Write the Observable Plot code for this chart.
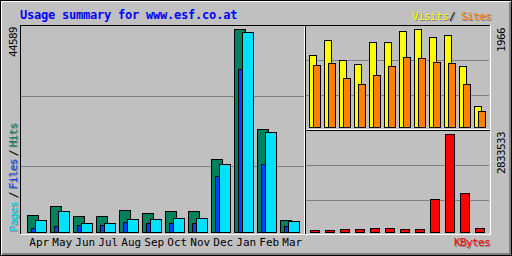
<!DOCTYPE html>
<html><head><meta charset="utf-8">
<script src="https://cdn.jsdelivr.net/npm/d3@7"></script>
<script src="https://cdn.jsdelivr.net/npm/@observablehq/plot@0.6"></script>
<style>
body{margin:0;background:#fff}
#chart{position:relative;width:512px;height:256px;background:#c0c0c0;overflow:hidden}
#chart svg{position:absolute;left:0;top:0}
</style></head><body><div id="chart"></div>
<script>
// ---- data ----
const months = ["Apr","May","Jun","Jul","Aug","Sep","Oct","Nov","Dec","Jan","Feb","Mar"];
const hits   = [3734,5711,3514,3514,4832,4173,4613,4613,16034,44589,22624,2636];
const files  = [879,1318,1538,1538,2196,1977,1977,1977,12300,35803,14936,1318];
const pages  = [2636,4613,1977,1977,2855,2855,3075,3075,14936,43864,21898,2416];
const visits = [1438,1739,1338,1258,1699,1699,1920,1966,1800,1840,1218,415];
const sites  = [1238,1278,977,857,1037,1218,1398,1378,1298,1278,857,315];
const kbytes = [57827,57827,86741,86741,115654,115654,86741,86741,954152,2833533,1127628,115654];
const title = "Usage summary for www.esf.co.at";

const monthly = months.map((m,i)=>({month:m,hits:hits[i],files:files[i],pages:pages[i],visits:visits[i],sites:sites[i],kbytes:kbytes[i]}));

// ---- colours ----
const C = {grey:"#c0c0c0", dk:"#808080", black:"#000", white:"#fff", hit:"#00805c", file:"#0040ff", page:"#00e0ff", visit:"#ffff00", site:"#ff8000", kb:"#ff0000", blue:"#0000ff"};
const W = 512, H = 256;
const mono = "'DejaVu Sans Mono', monospace";
const chart = document.getElementById("chart");

function layer(opts){
  const el = Plot.plot(Object.assign({width:W, height:H, style:{background:"transparent", fontFamily:mono, fontSize:"11px", overflow:"visible"}}, opts));
  chart.appendChild(el);
  return el;
}
const crisp = {shapeRendering:"crispEdges"};

// ---- left panel: hits / files / pages ----
const stepL = 23.35, x0L = 25, baseL = 232, topL = 29;
const maxL = d3.max(hits);
const gridL = [maxL*(baseL-166)/(baseL-topL), maxL*(baseL-96)/(baseL-topL)];
layer({
  marginLeft:x0L, marginRight:W-(x0L+12*stepL), marginTop:topL, marginBottom:H-baseL,
  x:{type:"band", domain:months, padding:0},
  y:{domain:[0,maxL], axis:null, round:true},
  marks:[
    Plot.ruleY(gridL, {stroke:C.dk, insetLeft:-(x0L-21), insetRight:(x0L+12*stepL)-304, ...crisp}),
    Plot.barY(monthly, {x:"month", y:"hits", fill:C.hit, stroke:C.black, insetLeft:0, insetRight:stepL-12, ...crisp}),
    Plot.barY(monthly, {x:"month", y:"files", fill:C.file, stroke:C.black, insetLeft:4, insetRight:stepL-16, ...crisp}),
    Plot.barY(monthly, {x:"month", y:"pages", fill:C.page, stroke:C.black, insetLeft:8, insetRight:stepL-20, ...crisp}),
    Plot.axisX({tickSize:0, tickPadding:6, textAnchor:"start", dx:2-stepL/2, fill:C.black, fontSize:11, label:null})
  ]
});

// ---- top right: visits / sites ----
const x0R = 309, stepR = 15;
const baseV = 127, topV = 29, maxV = d3.max(visits);
const gridV = [maxV*(baseV-95)/(baseV-topV), maxV*(baseV-60)/(baseV-topV)];
layer({
  marginLeft:x0R, marginRight:W-(x0R+12*stepR), marginTop:topV, marginBottom:H-baseV,
  x:{type:"band", domain:months, padding:0, axis:null},
  y:{domain:[0,maxV], axis:null, round:true},
  marks:[
    Plot.ruleY(gridV, {stroke:C.dk, insetLeft:-3, insetRight:0, ...crisp}),
    Plot.barY(monthly, {x:"month", y:"visits", fill:C.visit, stroke:C.black, insetLeft:0, insetRight:stepR-7, ...crisp}),
    Plot.barY(monthly, {x:"month", y:"sites", fill:C.site, stroke:C.black, insetLeft:4, insetRight:stepR-11, ...crisp})
  ]
});

// ---- bottom right: kbytes ----
const baseK = 232, topK = 134, maxK = d3.max(kbytes);
const gridK = [maxK*(baseK-200)/(baseK-topK), maxK*(baseK-165)/(baseK-topK)];
layer({
  marginLeft:x0R, marginRight:W-(x0R+12*stepR), marginTop:topK, marginBottom:H-baseK,
  x:{type:"band", domain:months, padding:0, axis:null},
  y:{domain:[0,maxK], axis:null, round:true},
  marks:[
    Plot.ruleY(gridK, {stroke:C.dk, insetLeft:-3, insetRight:0, ...crisp}),
    Plot.barY(monthly, {x:"month", y:"kbytes", fill:C.kb, stroke:C.black, insetLeft:1, insetRight:stepR-10, ...crisp})
  ]
});

// ---- frame & text overlay ----
const svg = d3.select(chart).append("svg").attr("width",W).attr("height",H);
const px = (x,y,w,h,c)=>svg.append("rect").attr("x",x).attr("y",y).attr("width",w).attr("height",h).attr("fill",c).attr("shape-rendering","crispEdges");
// outer border
px(0,0,W,1,C.black); px(0,H-1,W,1,C.black); px(0,0,1,H,C.black); px(W-1,0,1,H,C.black);
px(1,1,W-2,1,C.white); px(1,1,1,H-2,C.white);
px(2,H-3,W-3,2,C.dk); px(W-3,2,2,H-3,C.dk);
// inner box
px(20,25,471,1,C.black); px(20,25,1,210,C.black);
px(490,25,1,210,C.white); px(20,234,471,1,C.white);
// section lines
px(304,26,1,208,C.white); px(305,26,1,208,C.black);
px(306,129,184,1,C.white); px(306,130,184,1,C.black);

function txt(s,x,y,color,opt={}){
  const g = svg.append("g").attr("transform",`translate(${x},${y})${opt.up?" rotate(-90)":""}`);
  const mk = (dx,dy,c)=>g.append("text").attr("x",dx).attr("y",dy).attr("fill",c)
     .attr("font-family",mono).attr("font-size",opt.size||11).attr("font-weight",opt.bold?"bold":"normal")
     .attr("letter-spacing",opt.ls!=null?opt.ls:-0.62).text(s);
  if(opt.shadow){ if(opt.up) mk(-1,1,C.dk); else mk(1,1,C.dk); }
  mk(0,0,color);
}
txt(title,20,19,C.blue,{bold:true,size:12,ls:-0.22});
txt("Visits",412,20,C.visit,{shadow:true});
txt("/",449,20,C.black,{shadow:true});
txt("Sites",461,20,C.site,{shadow:true});
txt("KBytes",454,246,C.kb,{shadow:true});
txt("44589",17,57,C.black,{up:true});
txt("1966",505,52,C.black,{up:true});
txt("2833533",505,174,C.black,{up:true});
txt("Pages",17,231.5,C.page,{up:true,shadow:true});
txt("/",17,198,C.black,{up:true,shadow:true});
txt("Files",17,189,C.file,{up:true,shadow:true});
txt("/",17,156,C.black,{up:true,shadow:true});
txt("Hits",17,147,C.hit,{up:true,shadow:true});
</script></body></html>
